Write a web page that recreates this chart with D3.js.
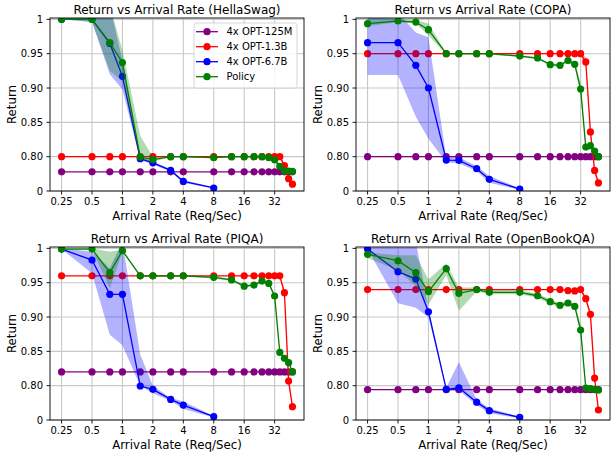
<!DOCTYPE html>
<html><head><meta charset="utf-8">
<script src="https://cdn.jsdelivr.net/npm/d3@7"></script>
<style>body{margin:0;background:#fff;} svg{display:block;font-family:"DejaVu Sans",sans-serif;}</style>
</head><body>
<svg id="chart" width="611" height="455"></svg>
<script>
// ---------- data ----------
const xAll  = [0.25,0.5,0.75,1,1.5,2,3,4,8,12,16,20,24,28,32,36,40,44,48];
const xBlue = [0.25,0.5,0.75,1,1.5,2,3,4,8];
const xTickVals = [0.25,0.5,1,2,4,8,16,32];
const xTickLabels = ["0.25","0.5","1","2","4","8","16","32"];
const yTickVals = [0.75,0.80,0.85,0.90,0.95,1.0];
const yTickLabels = ["0","0.80","0.85","0.90","0.95","1"];
const seriesNames = ["4x OPT-125M","4x OPT-1.3B","4x OPT-6.7B","Policy"];
const seriesColors = ["#800080","#ff0000","#0000ff","#008000"];
const panelTitles = ["Return vs Arrival Rate (HellaSwag)","Return vs Arrival Rate (COPA)","Return vs Arrival Rate (PIQA)","Return vs Arrival Rate (OpenBookQA)"];

// HellaSwag
const hs125 = [0.778,0.778,0.778,0.778,0.778,0.778,0.778,0.778,0.778,0.778,0.778,0.778,0.778,0.778,0.778,0.778,0.778,0.778,0.778];
const hs13  = [0.80,0.80,0.80,0.80,0.80,0.80,0.80,0.80,0.80,0.80,0.80,0.80,0.80,0.80,0.80,0.80,0.787,0.768,0.760];
const hs13Lo= [0.80,0.80,0.80,0.80,0.80,0.80,0.80,0.80,0.80,0.80,0.80,0.80,0.80,0.80,0.799,0.798,0.784,0.765,0.758];
const hs13Hi= [0.80,0.80,0.80,0.80,0.80,0.80,0.80,0.80,0.80,0.80,0.80,0.80,0.80,0.80,0.801,0.802,0.790,0.771,0.762];
const hs67  = [1.0,1.0,0.965,0.917,0.797,0.791,0.780,0.764,0.7544];
const hs67Lo= [1.0,0.996,0.92,0.898,0.795,0.789,0.778,0.762,0.7535];
const hs67Hi= [1.0,1.02,1.02,0.94,0.800,0.793,0.782,0.766,0.7555];
const hsPol = [1.0,1.0,0.966,0.937,0.7995,0.7956,0.80,0.80,0.7985,0.80,0.80,0.80,0.80,0.7985,0.7955,0.786,0.779,0.779,0.7786];
const hsPolLo=[1.0,0.996,0.925,0.91,0.797,0.793,0.799,0.799,0.7975,0.799,0.799,0.799,0.799,0.7975,0.792,0.783,0.777,0.777,0.777];
const hsPolHi=[1.0,1.02,1.02,0.955,0.83,0.80,0.801,0.801,0.7995,0.801,0.801,0.801,0.801,0.7995,0.799,0.789,0.781,0.781,0.780];

// COPA
const c125 = [0.80,0.80,0.80,0.80,0.80,0.80,0.80,0.80,0.80,0.80,0.80,0.80,0.80,0.80,0.80,0.80,0.80,0.80,0.80];
const c13  = [0.95,0.95,0.95,0.95,0.95,0.95,0.95,0.95,0.95,0.95,0.95,0.95,0.95,0.95,0.95,0.938,0.836,0.780,0.7617];
const c13Lo= [0.95,0.95,0.95,0.95,0.95,0.95,0.95,0.95,0.95,0.95,0.95,0.95,0.95,0.95,0.949,0.93,0.83,0.775,0.759];
const c13Hi= [0.95,0.95,0.95,0.95,0.95,0.95,0.95,0.95,0.95,0.95,0.95,0.95,0.95,0.95,0.951,0.945,0.842,0.785,0.764];
const c67  = [0.966,0.966,0.933,0.90,0.795,0.7947,0.7825,0.767,0.7529];
const c67Lo= [0.919,0.919,0.858,0.826,0.792,0.790,0.779,0.762,0.752];
const c67Hi= [1.01,1.01,0.981,0.974,0.799,0.799,0.786,0.772,0.754];
const cPol = [0.9937,0.9976,0.996,0.985,0.95,0.95,0.95,0.95,0.9466,0.9437,0.934,0.933,0.940,0.9345,0.8985,0.814,0.816,0.808,0.80];
const cPolLo=[0.99,0.996,0.994,0.977,0.949,0.949,0.949,0.949,0.945,0.942,0.932,0.931,0.938,0.930,0.89,0.81,0.812,0.805,0.798];
const cPolHi=[1.003,1.0,0.999,0.994,0.951,0.951,0.951,0.951,0.948,0.945,0.936,0.935,0.942,0.939,0.907,0.818,0.82,0.811,0.802];

// PIQA
const p125 = [0.82,0.82,0.82,0.82,0.82,0.82,0.82,0.82,0.82,0.82,0.82,0.82,0.82,0.82,0.82,0.82,0.82,0.82,0.82];
const p13  = [0.96,0.96,0.96,0.96,0.96,0.96,0.96,0.96,0.96,0.96,0.96,0.96,0.96,0.96,0.96,0.96,0.9354,0.8068,0.7694];
const p13Lo= [0.96,0.96,0.96,0.96,0.96,0.96,0.96,0.96,0.96,0.96,0.96,0.96,0.96,0.96,0.96,0.959,0.93,0.80,0.767];
const p13Hi= [0.96,0.96,0.96,0.96,0.96,0.96,0.96,0.96,0.96,0.96,0.96,0.96,0.96,0.96,0.96,0.961,0.94,0.812,0.772];
const p67  = [0.999,0.983,0.933,0.933,0.7995,0.7947,0.780,0.7718,0.7549];
const p67Lo= [0.999,0.9636,0.874,0.859,0.7995,0.789,0.778,0.766,0.7535];
const p67Hi= [1.0,0.995,0.971,1.01,0.845,0.80,0.782,0.777,0.756];
const pPol = [0.999,0.999,0.9646,0.9966,0.96,0.96,0.96,0.96,0.9578,0.954,0.945,0.9466,0.9524,0.949,0.9306,0.8485,0.8398,0.8335,0.8204];
const pPolLo=[0.999,0.998,0.942,0.995,0.959,0.959,0.959,0.959,0.956,0.952,0.943,0.945,0.951,0.947,0.928,0.846,0.838,0.832,0.819];
const pPolHi=[1.0,1.0,0.995,0.998,0.961,0.961,0.961,0.961,0.959,0.956,0.947,0.948,0.954,0.951,0.933,0.851,0.842,0.835,0.822];

// OpenBookQA
const o125 = [0.7942,0.7942,0.7942,0.7942,0.7942,0.7942,0.7942,0.7942,0.7942,0.7942,0.7942,0.7942,0.7942,0.7942,0.7942,0.7942,0.7942,0.7942,0.7942];
const o13  = [0.94,0.94,0.94,0.94,0.94,0.94,0.94,0.94,0.94,0.94,0.94,0.94,0.9385,0.938,0.94,0.9267,0.9039,0.811,0.7646];
const o13Lo= [0.94,0.94,0.94,0.94,0.94,0.94,0.94,0.94,0.94,0.94,0.94,0.94,0.9375,0.937,0.939,0.922,0.899,0.807,0.762];
const o13Hi= [0.94,0.94,0.94,0.94,0.94,0.94,0.94,0.94,0.94,0.94,0.94,0.94,0.9395,0.939,0.941,0.931,0.908,0.815,0.767];
const o67  = [0.999,0.966,0.9553,0.9077,0.7947,0.797,0.776,0.7636,0.7539];
const o67Lo= [0.999,0.92,0.9136,0.90,0.793,0.793,0.772,0.760,0.7525];
const o67Hi= [1.0,1.01,1.01,0.912,0.797,0.834,0.78,0.767,0.755];
const oPol = [0.9913,0.982,0.9646,0.937,0.9704,0.9345,0.94,0.936,0.936,0.931,0.9223,0.917,0.9204,0.9155,0.881,0.7966,0.7956,0.7947,0.7937];
const oPolLo=[0.986,0.968,0.945,0.918,0.961,0.909,0.937,0.933,0.933,0.928,0.919,0.914,0.917,0.912,0.875,0.795,0.794,0.793,0.792];
const oPolHi=[0.994,0.99,0.99,0.955,0.978,0.943,0.943,0.939,0.939,0.934,0.926,0.92,0.923,0.919,0.89,0.799,0.798,0.797,0.796];

const panelData = [
  [{y:hs125},{y:hs13,lo:hs13Lo,hi:hs13Hi},{y:hs67,lo:hs67Lo,hi:hs67Hi},{y:hsPol,lo:hsPolLo,hi:hsPolHi}],
  [{y:c125},{y:c13,lo:c13Lo,hi:c13Hi},{y:c67,lo:c67Lo,hi:c67Hi},{y:cPol,lo:cPolLo,hi:cPolHi}],
  [{y:p125},{y:p13,lo:p13Lo,hi:p13Hi},{y:p67,lo:p67Lo,hi:p67Hi},{y:pPol,lo:pPolLo,hi:pPolHi}],
  [{y:o125},{y:o13,lo:o13Lo,hi:o13Hi},{y:o67,lo:o67Lo,hi:o67Hi},{y:oPol,lo:oPolLo,hi:oPolHi}]
];
const seriesX = [xAll,xAll,xBlue,xAll];

// ---------- layout ----------
const svg = d3.select("#chart");
const W = 254, H = 173;
const boxes = [{l:50,t:18},{l:356,t:18},{l:50,t:247},{l:356,t:247}];

boxes.forEach((b,pi)=>{
  const x = d3.scaleLog().base(2).domain([Math.pow(2,-2.38),Math.pow(2,5.965)]).range([0,W]);
  const y = d3.scaleLinear().domain([0.75,1.002]).range([H,0]);
  const g = svg.append("g").attr("transform",`translate(${b.l},${b.t})`);
  const clipId = "clip"+pi;
  g.append("clipPath").attr("id",clipId).append("rect").attr("width",W).attr("height",H);

  // grid
  g.append("g").selectAll("line").data(xTickVals).join("line")
    .attr("x1",d=>x(d)).attr("x2",d=>x(d)).attr("y1",0).attr("y2",H)
    .attr("stroke","#c8c8c8").attr("stroke-width",1.1);
  g.append("g").selectAll("line").data(yTickVals).join("line")
    .attr("y1",d=>y(d)).attr("y2",d=>y(d)).attr("x1",0).attr("x2",W)
    .attr("stroke","#c8c8c8").attr("stroke-width",1.1);

  const plot = g.append("g").attr("clip-path",`url(#${clipId})`);
  panelData[pi].forEach((s,si)=>{
    const xs = seriesX[si];
    const col = seriesColors[si];
    const pts = xs.map((xv,i)=>({x:xv,y:s.y[i],lo:s.lo?s.lo[i]:null,hi:s.hi?s.hi[i]:null}));
    if(s.lo){
      plot.append("path").datum(pts)
        .attr("d",d3.area().x(d=>x(d.x)).y0(d=>y(d.lo)).y1(d=>y(d.hi)))
        .attr("fill",col).attr("fill-opacity",0.3);
    }
    plot.append("path").datum(pts)
      .attr("d",d3.line().x(d=>x(d.x)).y(d=>y(d.y)))
      .attr("fill","none").attr("stroke",col).attr("stroke-width",1.3);
    plot.append("g").selectAll("circle").data(pts).join("circle")
      .attr("cx",d=>x(d.x)).attr("cy",d=>y(d.y)).attr("r",3.6).attr("fill",col);
  });

  // spines
  g.append("rect").attr("width",W).attr("height",H).attr("fill","none").attr("stroke","#000").attr("stroke-width",0.9);

  // x ticks
  const xt = g.append("g");
  xTickVals.forEach((v,i)=>{
    xt.append("line").attr("x1",x(v)).attr("x2",x(v)).attr("y1",H).attr("y2",H+3.5).attr("stroke","#000").attr("stroke-width",0.9);
    xt.append("text").attr("x",x(v)).attr("y",H+14).attr("text-anchor","middle").attr("font-size","10px").text(xTickLabels[i]);
  });
  const yt = g.append("g");
  yTickVals.forEach((v,i)=>{
    yt.append("line").attr("x1",-3.5).attr("x2",0).attr("y1",y(v)).attr("y2",y(v)).attr("stroke","#000").attr("stroke-width",0.9);
    yt.append("text").attr("x",-7).attr("y",y(v)).attr("dy","0.35em").attr("text-anchor","end").attr("font-size","10px").text(yTickLabels[i]);
  });

  g.append("text").attr("x",W/2).attr("y",-4.5).attr("text-anchor","middle").attr("font-size","12px").text(panelTitles[pi]);
  g.append("text").attr("x",W/2).attr("y",H+28.5).attr("text-anchor","middle").attr("font-size","11.8px").text("Arrival Rate (Req/Sec)");
  g.append("text").attr("transform",`translate(${-34},${H/2}) rotate(-90)`).attr("text-anchor","middle").attr("font-size","11.8px").text("Return");

  if(pi===0){
    const lg = g.append("g").attr("transform",`translate(144,5)`);
    lg.append("rect").attr("width",103).attr("height",65).attr("rx",2.5)
      .attr("fill","#fff").attr("fill-opacity",0.8).attr("stroke","#d0d0d0").attr("stroke-width",0.9);
    seriesNames.forEach((n,i)=>{
      const cy = 8.7 + i*15;
      lg.append("line").attr("x1",2).attr("x2",24).attr("y1",cy).attr("y2",cy).attr("stroke",seriesColors[i]).attr("stroke-width",1.3);
      lg.append("circle").attr("cx",13).attr("cy",cy).attr("r",3.6).attr("fill",seriesColors[i]);
      lg.append("text").attr("x",32.5).attr("y",cy).attr("dy","0.35em").attr("font-size","10px").text(n);
    });
  }
});
</script>
</body></html>
